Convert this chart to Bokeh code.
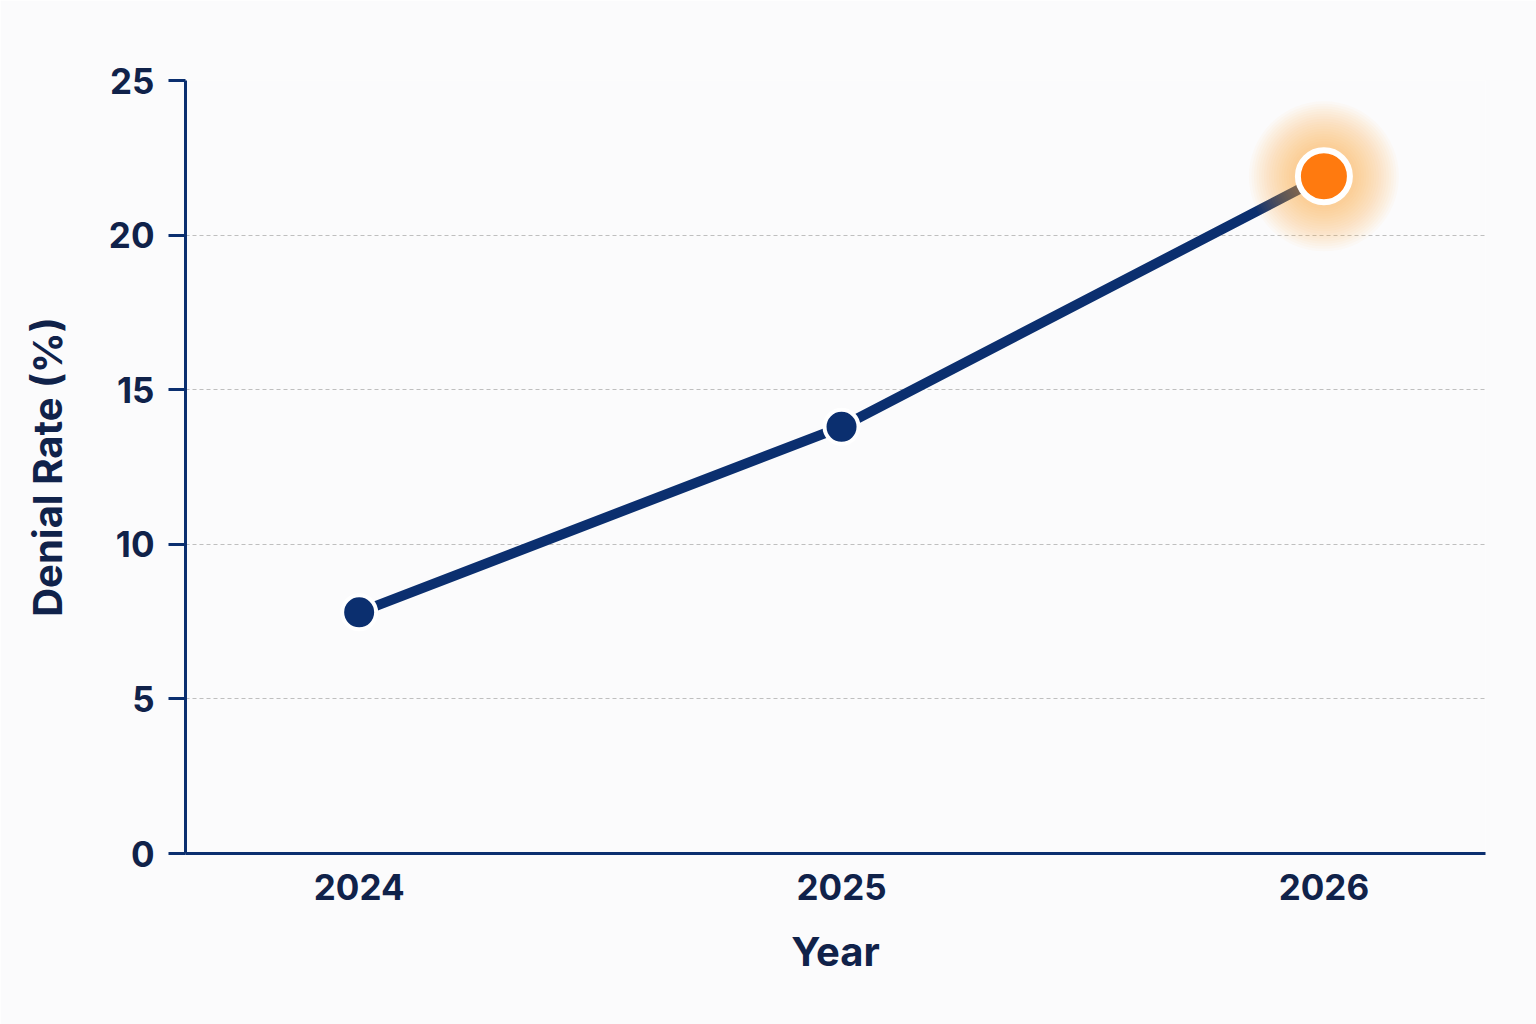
from bokeh.plotting import figure
from bokeh.models import Range1d, FixedTicker, ColumnDataSource
from bokeh.embed import file_html
from bokeh.resources import INLINE

years = [2024, 2025, 2026]
denial_rate = [7.8, 13.8, 21.9]
y_ticks = [0, 5, 10, 15, 20, 25]

NAVY = "#0b2f6f"
TEXT = "#10224a"
ORANGE = "#ff7a0f"
GLOW = "#ffa030"
BG = "#fbfbfc"

p = figure(width=1536, height=1024, output_backend="svg", toolbar_location=None,
           x_range=Range1d(2023.640, 2026.335), y_range=Range1d(0, 25),
           min_border_left=185, min_border_right=51, min_border_top=80, min_border_bottom=171,
           background_fill_color=BG, border_fill_color=BG, outline_line_color=None)

src = ColumnDataSource(dict(x=years[:2], y=denial_rate[:2]))
hl = ColumnDataSource(dict(x=years[2:], y=denial_rate[2:]))

p.line(years, denial_rate, line_color=NAVY, line_width=10, line_cap="round")

# soft glow around the highlighted point
for i in range(18):
    size = 150 - i * 5
    p.scatter("x", "y", source=hl, size=size, fill_color=GLOW, fill_alpha=0.035,
              line_color=None)

p.scatter("x", "y", source=src, size=34, fill_color=NAVY, line_color="white", line_width=4)
p.scatter("x", "y", source=hl, size=52, fill_color=ORANGE, line_color="white", line_width=6)

p.xgrid.visible = False
p.ygrid.ticker = FixedTicker(ticks=y_ticks)
p.ygrid.grid_line_color = "#bfbfbf"
p.ygrid.grid_line_dash = "4 3"
p.ygrid.grid_line_width = 1

for ax in (p.xaxis, p.yaxis):
    ax.axis_line_color = NAVY
    ax.axis_line_width = 3
    ax.major_tick_line_color = NAVY
    ax.major_tick_line_width = 3
    ax.minor_tick_line_color = None
    ax.major_label_text_color = TEXT
    ax.major_label_text_font = "Inter"
    ax.major_label_text_font_style = "bold"
    ax.major_label_text_font_size = "35px"
    ax.axis_label_text_color = TEXT
    ax.axis_label_text_font = "Inter"
    ax.axis_label_text_font_style = "bold"
    ax.axis_label_text_font_size = "40px"

p.xaxis.ticker = FixedTicker(ticks=years)
p.xaxis.major_tick_out = 0
p.xaxis.major_tick_in = 0
p.xaxis.major_label_standoff = 20
p.xaxis.axis_label = "Year"
p.xaxis.axis_label_standoff = 24

p.yaxis.ticker = FixedTicker(ticks=y_ticks)
p.yaxis.major_tick_out = 17
p.yaxis.major_tick_in = 0
p.yaxis.major_label_standoff = 14
p.yaxis.axis_label = "Denial Rate (%)"
p.yaxis.axis_label_standoff = 34

open("out.html", "w").write(file_html(p, INLINE))
